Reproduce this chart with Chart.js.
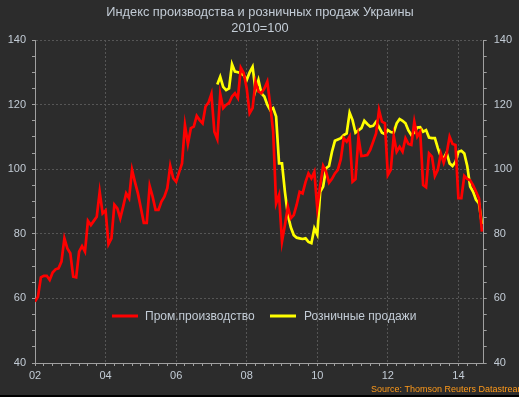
<!DOCTYPE html>
<html>
<head>
<meta charset="utf-8">
<script src="https://cdn.jsdelivr.net/npm/chart.js@4.4.1/dist/chart.umd.min.js"></script>
<style>
  html, body { margin: 0; padding: 0; background: #000; }
  #wrap { width: 519px; height: 397px; }
</style>
</head>
<body>
<div id="wrap"><canvas id="chart" width="519" height="397"></canvas></div>
<script>
// Индекс производства и розничных продаж Украины, 2010=100 (месячные данные с янв. 2002)
const startYear = 2002;
const lastMonth = 152.6;          // правый край оси (в месяцах от янв. 2002)
const titleLines = ['Индекс производства и розничных продаж Украины', '2010=100'];
const seriesNames = ['Пром.производство', 'Розничные продажи'];
const yTicks = [40, 60, 80, 100, 120, 140];
const xTickYears = [2002, 2004, 2006, 2008, 2010, 2012, 2014];

// Пром.производство, с янв. 2002
const prom = [
  59, 60.5, 66.5, 67, 67, 65.7, 68, 69, 69.3, 71.4, 78.6, 75.5,
  74, 66.7, 66.5, 74.5, 76.2, 74.5, 84, 82.7, 84, 85.3, 93, 86.3,
  87.2, 76.8, 78.6, 89, 87.9, 84.8, 88.5, 92.5, 91, 99.8, 96, 92.5,
  88, 83.4, 83.4, 94.8, 91.5, 87.4, 87.4, 90, 91.5, 94.1, 101, 97.2,
  96.1, 99, 101.8, 113.7, 107.8, 112.7, 113.2, 116.5, 115.2, 114.2, 119.4, 120.6,
  123.3, 111.6, 109.3, 123.3, 118.9, 119.9, 120.5, 122.5, 123.5, 122, 131.4, 129.7,
  125, 117.3, 118.9, 127.1, 124, 123.5, 125, 127.1, 119.9, 111.6, 89.4, 92,
  77.6, 82.7, 88.4, 84.8, 85.8, 89, 93, 92.5, 96, 98.7, 97.2, 99.2,
  87.9, 95, 101, 99.2, 95.8, 97, 98.7, 99.8, 103.1, 109.6, 108.5, 110.1,
  96.1, 96.9, 109.9, 104.1, 104.2, 104.4, 106, 108.5, 111.1, 118.3, 114.7, 114.2,
  98.2, 99.8, 110.3, 105.4, 106.9, 105.4, 109.6, 107.8, 107.5, 114.7, 110.1, 111.6,
  95.1, 94.4, 104.9, 103.9, 97.9, 99.8, 104.9, 102, 104.9, 110.1, 107.8, 107.5,
  91, 91, 97.9, 97, 96.6, 95, 93, 91, 80.7
];

// Розничные продажи, с марта 2007 (месяц 62)
const retailStart = 62;
const retail = [
  126.2, 128.6, 125.5, 124.5, 125, 132.5, 130.2, 130, 129.7, 129,
  127.6, 130, 131.7, 124.5, 127.6, 123.5, 122.5, 120, 118.3, 118.9, 116.3, 101.8,
  101.8, 93, 85.8, 82, 79.6, 78.8, 78.6, 78.4, 78.6, 77.5, 77.1, 81.7,
  79.8, 93, 94.6, 100.3, 101, 105.4, 108.8, 109.2, 109.6, 110.6, 111.1, 117.5,
  115.2, 111.3, 112, 112.7, 115, 114, 113.2, 113.4, 114.7, 113, 111.3, 110.9,
  112.1, 111.5, 111.3, 114.2, 115.5, 115, 114.2, 112, 110.6, 111.3, 112.9, 113,
  111.6, 112.1, 109.8, 109.6, 109.6, 106.5, 103.9, 103.4, 105.1, 101.8, 101, 102.3,
  105.4, 105.7, 104.9, 101, 94.6, 93, 90.5, 89.4, 83
];

const toPoints = (vals, offset) => vals.map((v, i) => ({ x: startYear + (offset + i) / 12, y: v }));

const textColor = '#c3ccd6';
const gridColor = '#565656';
const axisColor = '#a0a0a0';
const isStep = (v, step) => Math.abs(v / step - Math.round(v / step)) < 1e-6;

// фон, заголовок, легенда внутри графика и источник
const decorPlugin = {
  id: 'decor',
  beforeDraw(chart) {
    const c = chart.ctx;
    c.save();
    c.fillStyle = '#000';
    c.fillRect(0, 0, chart.width, chart.height);
    c.fillStyle = '#2c2c2c';
    c.fillRect(0, 0, chart.width, 395);
    c.restore();
  },
  afterDraw(chart) {
    const c = chart.ctx;
    c.save();
    c.fillStyle = textColor;
    c.textAlign = 'center';
    c.textBaseline = 'middle';
    c.font = '12.8px "Liberation Sans", Arial, sans-serif';
    c.fillText(titleLines[0], 260, 12);
    c.fillText(titleLines[1], 260, 28);

    // легенда
    const legendPos = [{ x: 112, tx: 145 }, { x: 270, tx: 304 }];
    c.font = '12px "Liberation Sans", Arial, sans-serif';
    c.textAlign = 'left';
    chart.data.datasets.forEach((ds, i) => {
      const p = legendPos[i];
      c.strokeStyle = ds.borderColor;
      c.lineWidth = 3;
      c.beginPath();
      c.moveTo(p.x, 316);
      c.lineTo(p.x + 26, 316);
      c.stroke();
      c.fillStyle = textColor;
      c.fillText(ds.label, p.tx, 316.5);
    });

    c.fillStyle = '#ff9a1a';
    c.font = '9px "Liberation Sans", Arial, sans-serif';
    c.textBaseline = 'alphabetic';
    c.fillText('Source: Thomson Reuters Datastream', 371, 392);
    c.restore();
  }
};

const yScale = (position) => ({
  type: 'linear',
  position: position,
  min: yTicks[0],
  max: yTicks[yTicks.length - 1],
  afterFit: (s) => { s.width = position === 'left' ? 35 : 35.3; },
  afterBuildTicks: (s) => {
    const t = [];
    for (let v = yTicks[0]; v <= yTicks[yTicks.length - 1]; v += 5) t.push({ value: v });
    s.ticks = t;
  },
  ticks: {
    autoSkip: false,
    color: textColor,
    font: { family: '"Liberation Sans", Arial, sans-serif', size: 11 },
    padding: position === 'left' ? 6 : 7,
    callback: (v) => (yTicks.includes(v) ? String(v) : '')
  },
  grid: {
    drawOnChartArea: position === 'left',
    color: (ctx) => (ctx.tick && yTicks.includes(ctx.tick.value) && ctx.tick.value !== yTicks[0]) ? gridColor : 'rgba(0,0,0,0)',
    tickColor: axisColor,
    tickLength: 3
  },
  border: { display: true, color: axisColor, width: 1, dash: [2, 2] }
});

new Chart(document.getElementById('chart'), {
  type: 'line',
  data: {
    datasets: [
      {
        label: seriesNames[0],
        data: toPoints(prom, 0),
        borderColor: '#ff0000',
        borderWidth: 2.7,
        pointRadius: 0,
        tension: 0
      },
      {
        label: seriesNames[1],
        data: toPoints(retail, retailStart),
        borderColor: '#ffff00',
        borderWidth: 2.7,
        pointRadius: 0,
        tension: 0
      }
    ]
  },
  options: {
    responsive: false,
    animation: false,
    layout: { padding: { top: 40, left: 0, right: 0, bottom: 0 } },
    plugins: { legend: { display: false }, title: { display: false }, tooltip: { enabled: false } },
    scales: {
      x: {
        type: 'linear',
        min: startYear,
        max: startYear + lastMonth / 12,
        afterFit: (s) => { s.height = 34; },
        afterBuildTicks: (s) => {
          const t = [];
          for (let q = 0; q <= lastMonth / 3; q++) t.push({ value: startYear + q / 4 });
          s.ticks = t;
        },
        ticks: {
          autoSkip: false,
          maxRotation: 0,
          color: textColor,
          font: { family: '"Liberation Sans", Arial, sans-serif', size: 11 },
          padding: 3,
          callback: (v) => {
            const y = Math.round(v);
            return (isStep(v, 1) && xTickYears.includes(y)) ? String(y % 100).padStart(2, '0') : '';
          }
        },
        grid: {
          color: (ctx) => {
            const v = ctx.tick ? ctx.tick.value : 0;
            return (isStep(v, 2) && v > startYear) ? gridColor : 'rgba(0,0,0,0)';
          },
          tickColor: axisColor,
          tickLength: 3
        },
        border: { display: true, color: axisColor, width: 1, dash: [2, 2] }
      },
      y: yScale('left'),
      y2: yScale('right')
    }
  },
  plugins: [decorPlugin]
});
</script>
</body>
</html>
